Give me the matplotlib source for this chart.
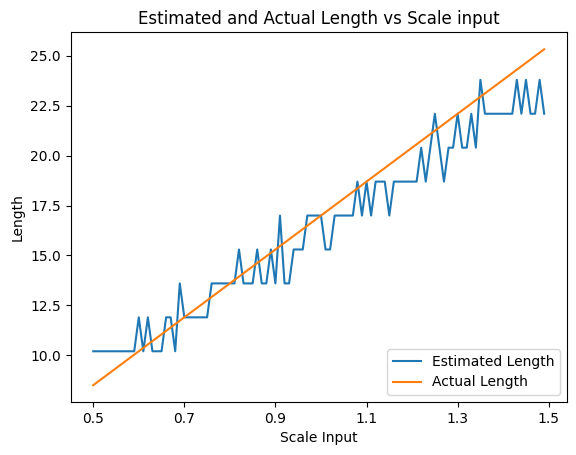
import matplotlib
matplotlib.use("Agg")
import matplotlib.pyplot as plt

scale_input = [0.50, 0.51, 0.52, 0.53, 0.54, 0.55, 0.56, 0.57, 0.58, 0.59,
               0.60, 0.61, 0.62, 0.63, 0.64, 0.65, 0.66, 0.67, 0.68, 0.69,
               0.70, 0.71, 0.72, 0.73, 0.74, 0.75, 0.76, 0.77, 0.78, 0.79,
               0.80, 0.81, 0.82, 0.83, 0.84, 0.85, 0.86, 0.87, 0.88, 0.89,
               0.90, 0.91, 0.92, 0.93, 0.94, 0.95, 0.96, 0.97, 0.98, 0.99,
               1.00, 1.01, 1.02, 1.03, 1.04, 1.05, 1.06, 1.07, 1.08, 1.09,
               1.10, 1.11, 1.12, 1.13, 1.14, 1.15, 1.16, 1.17, 1.18, 1.19,
               1.20, 1.21, 1.22, 1.23, 1.24, 1.25, 1.26, 1.27, 1.28, 1.29,
               1.30, 1.31, 1.32, 1.33, 1.34, 1.35, 1.36, 1.37, 1.38, 1.39,
               1.40, 1.41, 1.42, 1.43, 1.44, 1.45, 1.46, 1.47, 1.48, 1.49]

estimated_length = [10.2, 10.2, 10.2, 10.2, 10.2, 10.2, 10.2, 10.2, 10.2, 10.2,
                    11.9, 10.2, 11.9, 10.2, 10.2, 10.2, 11.9, 11.9, 10.2, 13.6,
                    11.9, 11.9, 11.9, 11.9, 11.9, 11.9, 13.6, 13.6, 13.6, 13.6,
                    13.6, 13.6, 15.3, 13.6, 13.6, 13.6, 15.3, 13.6, 13.6, 15.3,
                    13.6, 17.0, 13.6, 13.6, 15.3, 15.3, 15.3, 17.0, 17.0, 17.0,
                    17.0, 15.3, 15.3, 17.0, 17.0, 17.0, 17.0, 17.0, 18.7, 17.0,
                    18.7, 17.0, 18.7, 18.7, 18.7, 17.0, 18.7, 18.7, 18.7, 18.7,
                    18.7, 18.7, 20.4, 18.7, 20.4, 22.1, 20.4, 18.7, 20.4, 20.4,
                    22.1, 20.4, 20.4, 22.1, 20.4, 23.8, 22.1, 22.1, 22.1, 22.1,
                    22.1, 22.1, 22.1, 23.8, 22.1, 23.8, 22.1, 22.1, 23.8, 22.1]

actual_x = [0.50, 1.49]
actual_length = [8.5, 25.33]

xtick_values = [0.5, 0.7, 0.9, 1.1, 1.3, 1.5]
xtick_labels = ["0.5", "0.7", "0.9", "1.1", "1.3", "1.5"]

fig = plt.figure(figsize=(5.76, 4.55), dpi=100)
ax = fig.add_subplot(111)
fig.subplots_adjust(left=0.1227, right=0.9839, bottom=0.1165, top=0.9286)

ax.plot(scale_input, estimated_length, label="Estimated Length")
ax.plot(actual_x, actual_length, label="Actual Length")
ax.set_xticks(xtick_values)
ax.set_xticklabels(xtick_labels)
ax.set_xlabel("Scale Input")
ax.set_ylabel("Length")
ax.set_title("Estimated and Actual Length vs Scale input")
ax.legend(loc="lower right")

fig.savefig("out.png", dpi=100)
